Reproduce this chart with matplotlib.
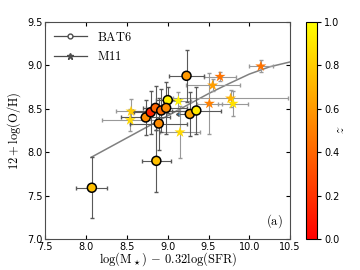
import matplotlib
matplotlib.use("Agg")
import matplotlib.pyplot as plt
import numpy as np
from matplotlib.lines import Line2D

plt.rcParams['mathtext.fontset'] = 'cm'
plt.rcParams['font.size'] = 7

# BAT6 (circles)
bat_x = [8.07, 8.86, 9.23, 9.00, 8.73, 8.79, 8.85, 8.92, 8.98, 8.89, 9.27, 9.35]
bat_y = [7.59, 7.90, 8.88, 8.60, 8.40, 8.46, 8.51, 8.48, 8.51, 8.33, 8.44, 8.48]
bat_z = [0.75, 0.75, 0.60, 0.95, 0.55, 0.15, 0.40, 0.42, 0.55, 0.55, 0.65, 0.92]
bat_xerr = [0.19, 0.18, 0.21, 0.15, 0.30, 0.20, 0.15, 0.35, 0.25, 0.35, 0.13, 0.30]
bat_yerr = [0.35, 0.36, 0.30, 0.15, 0.20, 0.25, 0.25, 0.25, 0.30, 0.30, 0.25, 0.27]
bat_xlim = [False] * 10 + [True, False]

# M11 (stars)
m11_x = [8.55, 8.54, 9.13, 9.15, 10.14, 9.64, 9.55, 9.51, 9.77, 9.80]
m11_y = [8.47, 8.37, 8.59, 8.23, 8.99, 8.87, 8.77, 8.56, 8.62, 8.56]
m11_z = [0.80, 0.85, 0.95, 0.85, 0.45, 0.45, 0.62, 0.50, 0.70, 0.88]
m11_xerr = [0.19, 0.35, 0.15, 0.25, 0.15, 0.20, 0.33, 0.15, 0.70, 0.18]
m11_yerr = [0.14, 0.13, 0.10, 0.30, 0.07, 0.05, 0.07, 0.35, 0.10, 0.14]

# relation curve
curve_x = [8.06, 8.5, 9.0, 9.5, 9.75, 10.0, 10.25, 10.5]
curve_y = [7.94, 8.165, 8.42, 8.675, 8.79, 8.90, 8.984, 9.04]

fig = plt.figure(figsize=(3.6, 2.7), dpi=100)
ax = fig.add_axes([0.126, 0.115, 0.68, 0.8035])
cax = fig.add_axes([0.851, 0.115, 0.030, 0.8035])

cmap = plt.get_cmap('autumn')

ax.plot(curve_x, curve_y, color='0.5', lw=1.1, zorder=1)

ax.errorbar(m11_x, m11_y, xerr=m11_xerr, yerr=m11_yerr, fmt='none',
            ecolor='0.6', elinewidth=0.8, capsize=1.5, zorder=2)
ax.errorbar(bat_x, bat_y, xerr=bat_xerr, yerr=bat_yerr, xuplims=bat_xlim,
            fmt='none', ecolor='0.35', elinewidth=0.8, capsize=1.5, zorder=3)

ax.scatter(m11_x, m11_y, c=m11_z, cmap=cmap, vmin=0, vmax=1, marker='*',
           s=70, edgecolors='none', zorder=4)
sc = ax.scatter(bat_x, bat_y, c=bat_z, cmap=cmap, vmin=0, vmax=1, marker='o',
                s=42, edgecolors='black', linewidths=1.1, zorder=5)

ax.set_xlim(7.5, 10.5)
ax.set_ylim(7.0, 9.5)
ax.set_xticks(np.arange(7.5, 10.51, 0.5))
ax.set_yticks(np.arange(7.0, 9.51, 0.5))
ax.tick_params(direction='in', top=True, right=True, labelsize=7, length=3, pad=2)
for s in ax.spines.values():
    s.set_color('0.3')

ax.set_xlabel(r'$\log({\rm M}_\star)\,-\,0.32\log({\rm SFR})$', fontsize=9, labelpad=-1)
ax.set_ylabel(r'$12+\log({\rm O/H})$', fontsize=9, labelpad=3)
ax.text(0.97, 0.04, r'$({\rm a})$', transform=ax.transAxes, ha='right', va='bottom', fontsize=9)

handles = [Line2D([], [], color='0.3', lw=0.9, marker='o', markersize=3.5,
                  markerfacecolor='white', markeredgecolor='0.3'),
           Line2D([], [], color='0.3', lw=0.9, marker='*', markersize=4.5,
                  markerfacecolor='0.3', markeredgecolor='0.3')]
ax.legend(handles, [r'${\rm BAT6}$', r'${\rm M11}$'], loc='upper left',
          frameon=False, fontsize=9, handlelength=2.6, borderaxespad=0.3,
          labelspacing=0.5)

cb = fig.colorbar(sc, cax=cax)
cb.set_ticks([0.0, 0.2, 0.4, 0.6, 0.8, 1.0])
cb.ax.tick_params(labelsize=7, length=3, pad=2)
cb.outline.set_linewidth(0.8)
fig.text(0.945, 0.52, r'$z$', rotation=270, ha='center', va='center', fontsize=10)

fig.savefig('out.png', dpi=100)
